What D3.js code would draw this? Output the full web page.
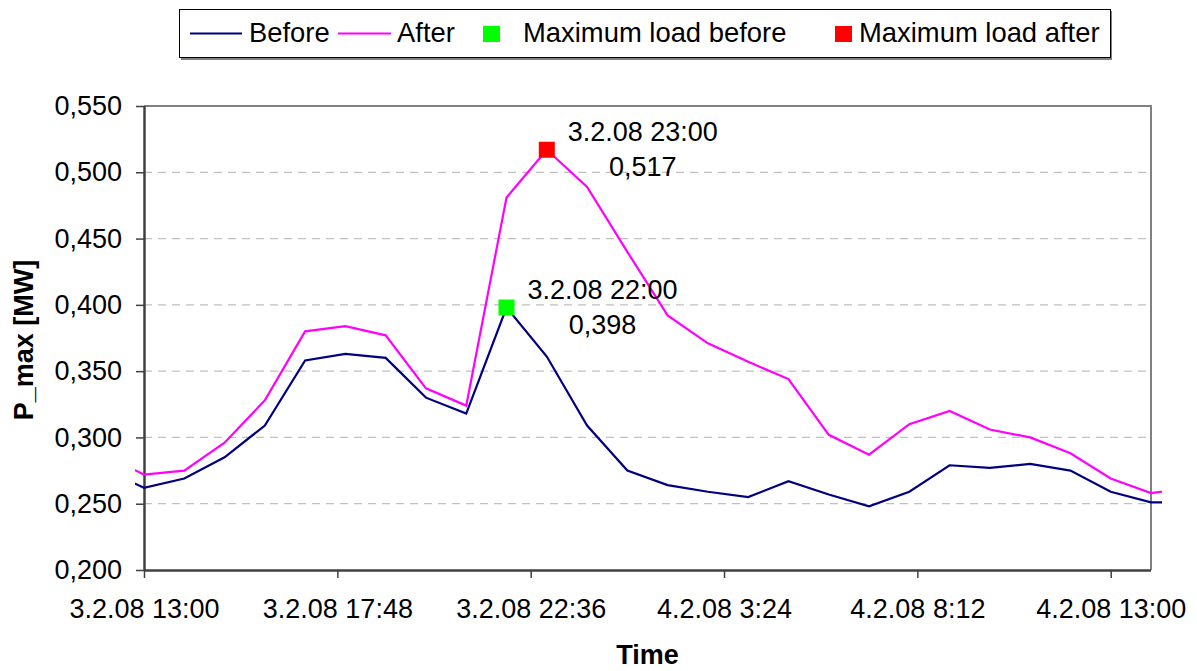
<!DOCTYPE html>
<html>
<head>
<meta charset="utf-8">
<script src="https://cdn.jsdelivr.net/npm/d3@7"></script>
<style>
  html, body { margin: 0; padding: 0; background: #fff; }
  svg { display: block; font-family: "Liberation Sans", Arial, sans-serif; }
</style>
</head>
<body>
<svg id="chart" width="1197" height="671"></svg>
<script>
// Hourly timestamps (d.m.yy H:MM)
const times = [
  "3.2.08 12:00", "3.2.08 13:00", "3.2.08 14:00", "3.2.08 15:00", "3.2.08 16:00",
  "3.2.08 17:00", "3.2.08 18:00", "3.2.08 19:00", "3.2.08 20:00", "3.2.08 21:00",
  "3.2.08 22:00", "3.2.08 23:00", "4.2.08 0:00", "4.2.08 1:00", "4.2.08 2:00",
  "4.2.08 3:00", "4.2.08 4:00", "4.2.08 5:00", "4.2.08 6:00", "4.2.08 7:00",
  "4.2.08 8:00", "4.2.08 9:00", "4.2.08 10:00", "4.2.08 11:00", "4.2.08 12:00",
  "4.2.08 13:00", "4.2.08 14:00", "4.2.08 15:00"
];

// P_max [MW] before and after
const before = [
  0.276, 0.262, 0.269, 0.285, 0.309, 0.358, 0.363, 0.360, 0.330, 0.318,
  0.398, 0.361, 0.309, 0.275, 0.264, 0.259, 0.255, 0.267, 0.257, 0.248,
  0.259, 0.279, 0.277, 0.280, 0.275, 0.259, 0.251, 0.251
];
const after = [
  0.287, 0.272, 0.275, 0.296, 0.328, 0.380, 0.384, 0.377, 0.337, 0.324,
  0.481, 0.517, 0.489, 0.440, 0.392, 0.371, 0.357, 0.344, 0.302, 0.287,
  0.310, 0.320, 0.306, 0.300, 0.288, 0.269, 0.258, 0.262
];

// Peak points
const maxBefore = { time: "3.2.08 22:00", value: 0.398 };
const maxAfter  = { time: "3.2.08 23:00", value: 0.517 };

// Axis ticks
const xTickLabels = ["3.2.08 13:00", "3.2.08 17:48", "3.2.08 22:36", "4.2.08 3:24", "4.2.08 8:12", "4.2.08 13:00"];
const yTicks = [0.200, 0.250, 0.300, 0.350, 0.400, 0.450, 0.500, 0.550];
const xDomain = ["3.2.08 13:00", "4.2.08 14:00"];

const legendItems = ["Before", "After", "Maximum load before", "Maximum load after"];

// ---------------------------------------------------------------
const parse = d3.timeParse("%d.%m.%y %H:%M");
const fmtTime = d3.timeFormat("%-d.%-m.%y %-H:%M");
const locale = d3.formatLocale({ decimal: ",", thousands: ".", grouping: [3], currency: ["", ""] });
const fmtVal = locale.format(".3f");

const svg = d3.select("#chart");
svg.append("rect").attr("width", 1197).attr("height", 671).attr("fill", "#fff");

const plotL = 144, plotR = 1151, plotT = 106, plotB = 570;
const FS = 27;

const x = d3.scaleTime().domain(xDomain.map(parse)).range([plotL, plotR]);
const y = d3.scaleLinear().domain([0.2, 0.55]).range([plotB, plotT]);

// Gridlines
svg.append("g")
  .selectAll("line")
  .data(yTicks.filter(v => v > 0.2 + 1e-9 && v < 0.55 - 1e-9))
  .join("line")
  .attr("x1", plotL).attr("x2", plotR)
  .attr("y1", d => y(d)).attr("y2", d => y(d))
  .attr("stroke", "#c0c0c0").attr("stroke-width", 1.2)
  .attr("stroke-dasharray", "8,6");

// Plot frame (top/right)
svg.append("path")
  .attr("d", `M${plotL},${plotT}H${plotR}V${plotB}`)
  .attr("fill", "none").attr("stroke", "#808080").attr("stroke-width", 2);

// Axes
const yAxis = d3.axisLeft(y).tickValues(yTicks).tickFormat(fmtVal).tickSize(8).tickPadding(14);
const gy = svg.append("g").attr("transform", `translate(${plotL},0)`).call(yAxis);
const xAxis = d3.axisBottom(x).tickValues(xTickLabels.map(parse)).tickFormat(fmtTime).tickSize(8).tickPadding(21);
const gx = svg.append("g").attr("transform", `translate(0,${plotB})`).call(xAxis);

[gx, gy].forEach(g => {
  g.select(".domain").attr("stroke", "#404040").attr("stroke-width", 2.5);
  g.selectAll(".tick line").attr("stroke", "#404040").attr("stroke-width", 1.5);
  g.selectAll(".tick text").attr("fill", "#000").attr("font-size", FS)
    .attr("font-family", "'Liberation Sans', Arial, sans-serif");
});
gx.select(".domain").attr("d", `M${plotL},0.5H${plotR}`);
gy.select(".domain").attr("d", `M0.5,${plotT}V${plotB}`);

// Axis titles
svg.append("text")
  .attr("x", (plotL + plotR) / 2).attr("y", 664)
  .attr("text-anchor", "middle").attr("font-weight", "bold").attr("font-size", FS)
  .text("Time");
svg.append("text")
  .attr("transform", "translate(33,340) rotate(-90)")
  .attr("text-anchor", "middle").attr("font-weight", "bold").attr("font-size", FS)
  .text("P_max [MW]");

// Series lines
svg.append("defs").append("clipPath").attr("id", "plotClip")
  .append("rect").attr("x", 135).attr("y", 90).attr("width", 1162 - 135).attr("height", 490);

const dates = times.map(parse);
const line = d3.line().x((d, i) => x(dates[i])).y(d => y(d));

const series = [
  { values: before, color: "#000080" },
  { values: after, color: "#ff00ff" }
];
svg.append("g").attr("clip-path", "url(#plotClip)")
  .selectAll("path")
  .data(series)
  .join("path")
  .attr("d", s => line(s.values))
  .attr("fill", "none")
  .attr("stroke", s => s.color)
  .attr("stroke-width", 2.2)
  .attr("stroke-linejoin", "miter");

// Peak markers with labels
const peaks = [
  { p: maxBefore, color: "#00ff00" },
  { p: maxAfter, color: "#ff0000" }
];
const ms = 16;
peaks.forEach(({ p, color }) => {
  const cx = x(parse(p.time)), cy = y(p.value);
  svg.append("rect")
    .attr("x", cx - ms / 2).attr("y", cy - ms / 2)
    .attr("width", ms).attr("height", ms)
    .attr("fill", color);
  svg.append("text")
    .attr("x", cx + 96).attr("y", cy - 9)
    .attr("text-anchor", "middle").attr("font-size", FS)
    .text(fmtTime(parse(p.time)));
  svg.append("text")
    .attr("x", cx + 96).attr("y", cy + 26)
    .attr("text-anchor", "middle").attr("font-size", FS)
    .text(fmtVal(p.value));
});

// Legend
const LFS = 27.4;
const lg = svg.append("g");
lg.append("rect").attr("x", 181).attr("y", 11).attr("width", 931).attr("height", 49).attr("fill", "#808080");
lg.append("rect").attr("x", 179.5).attr("y", 9.5).attr("width", 931).attr("height", 48)
  .attr("fill", "#fff").attr("stroke", "#000").attr("stroke-width", 1);

const ly = 33.5, lbase = 42;
lg.append("line").attr("x1", 190).attr("x2", 242).attr("y1", ly).attr("y2", ly)
  .attr("stroke", "#000080").attr("stroke-width", 2.2);
lg.append("text").attr("x", 249).attr("y", lbase).attr("font-size", LFS).text(legendItems[0]);
lg.append("line").attr("x1", 338).attr("x2", 391).attr("y1", ly).attr("y2", ly)
  .attr("stroke", "#ff00ff").attr("stroke-width", 2.2);
lg.append("text").attr("x", 397).attr("y", lbase).attr("font-size", LFS).text(legendItems[1]);
lg.append("rect").attr("x", 483).attr("y", 26).attr("width", 17).attr("height", 16).attr("fill", "#00ff00");
lg.append("text").attr("x", 523).attr("y", lbase).attr("font-size", LFS).text(legendItems[2]);
lg.append("rect").attr("x", 835).attr("y", 26).attr("width", 17).attr("height", 16).attr("fill", "#ff0000");
lg.append("text").attr("x", 859).attr("y", lbase).attr("font-size", LFS).text(legendItems[3]);
</script>
</body>
</html>
